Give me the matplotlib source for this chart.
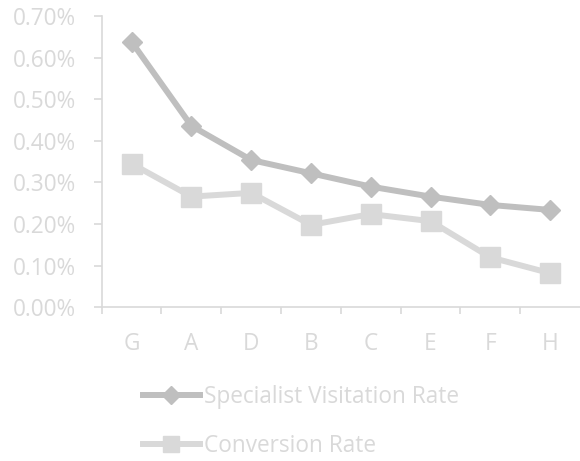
import matplotlib
matplotlib.use("Agg")
import matplotlib.pyplot as plt
from matplotlib.ticker import FixedLocator, PercentFormatter

categories = ["G", "A", "D", "B", "C", "E", "F", "H"]
visitation_rate = [0.638, 0.436, 0.354, 0.322, 0.290, 0.266, 0.246, 0.234]
conversion_rate = [0.345, 0.266, 0.275, 0.198, 0.224, 0.207, 0.120, 0.082]
series_names = ["Specialist Visitation Rate", "Conversion Rate"]

TEXT = "#D9D9D9"
AXIS = "#D9D9D9"
DARK = "#BFBFBF"
LIGHT = "#D9D9D9"
FS = 16.3

plt.rcParams["font.family"] = ["Open Sans", "DejaVu Sans"]

fig = plt.figure(figsize=(5.8, 4.61), dpi=100)
ax = fig.add_axes([101.7 / 580, 1 - 307.3 / 461, 1 - 101.7 / 580, (307.3 - 16) / 461])

x = list(range(len(categories)))
ax.plot(x, visitation_rate, color=DARK, lw=4.3, marker="D", ms=10.5,
        mfc=DARK, mec=DARK, label=series_names[0], solid_joinstyle="round")
ax.plot(x, conversion_rate, color=LIGHT, lw=4.3, marker="s", ms=14,
        mfc=LIGHT, mec=LIGHT, label=series_names[1], solid_joinstyle="round")

ax.set_xlim(-0.5, len(categories) - 0.5)
ax.set_ylim(0, 0.70)
ax.set_yticks([i / 100 for i in range(0, 71, 10)])
ax.yaxis.set_major_formatter(PercentFormatter(xmax=100, decimals=2))

# category boundaries carry the tick marks, centers carry the labels
ax.xaxis.set_major_locator(FixedLocator([i - 0.5 for i in range(len(categories))]))
ax.xaxis.set_minor_locator(FixedLocator(x))
ax.set_xticklabels([], minor=False)
ax.set_xticklabels(categories, minor=True)
ax.tick_params(axis="x", which="major", length=5, width=1.2, color=AXIS, direction="out")
ax.tick_params(axis="x", which="minor", length=0, pad=18, labelsize=FS, labelcolor=TEXT)
ax.tick_params(axis="y", length=5.5, width=1.2, color=AXIS, pad=13,
               labelsize=FS, labelcolor=TEXT)

for side in ("top", "right"):
    ax.spines[side].set_visible(False)
for side in ("left", "bottom"):
    ax.spines[side].set_color(AXIS)
    ax.spines[side].set_linewidth(1.2)

leg = fig.legend(loc="upper left", bbox_to_anchor=(143 / 580, 1 - 385 / 461),
                 frameon=False, fontsize=FS, handlelength=2.5, handletextpad=0.2,
                 labelspacing=1.1, markerscale=0.85, borderaxespad=0, borderpad=0)
for t in leg.get_texts():
    t.set_color(TEXT)

fig.savefig("out.png", dpi=100)
